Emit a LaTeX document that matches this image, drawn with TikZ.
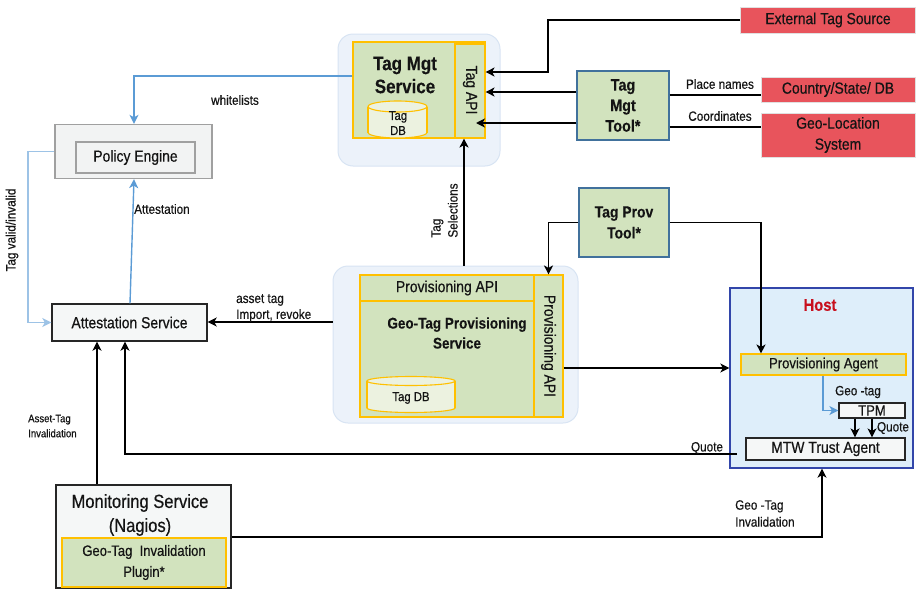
\documentclass[tikz,border=0pt]{standalone}
\usepackage{fontspec}
\setmainfont{Liberation Sans}[FakeStretch=0.87, UprightFeatures={FakeBold=0.5}, BoldFeatures={FakeBold=0.3}]
\usetikzlibrary{arrows.meta,calc}
\definecolor{grn}{RGB}{210,227,190}
\definecolor{yel}{RGB}{255,192,0}
\definecolor{cylf}{RGB}{236,242,224}
\definecolor{redc}{RGB}{232,84,92}
\definecolor{bgblue}{RGB}{236,242,250}
\definecolor{bgbord}{RGB}{216,228,243}
\definecolor{hostf}{RGB}{222,238,250}
\definecolor{hostd}{RGB}{50,70,170}
\definecolor{toolb}{RGB}{65,113,156}
\definecolor{blu}{RGB}{91,155,213}
\definecolor{lblu}{RGB}{157,195,230}
\definecolor{grayf}{RGB}{242,243,243}
\definecolor{grayd}{RGB}{160,160,160}
\definecolor{whf}{RGB}{245,247,247}
\definecolor{hostred}{RGB}{200,16,30}
\definecolor{txt}{RGB}{20,20,20}
\begin{document}
\begin{tikzpicture}[x=1pt,y=-1pt,
  every node/.style={text=txt},
  box/.style={draw, rectangle, inner sep=0pt, align=center},
  grnbox/.style={box, fill=grn, draw=yel, line width=1.1pt},
  redbox/.style={box, fill=redc, draw=black!12, line width=1pt, font=\fontsize{16}{21}\selectfont},
  toolbox/.style={box, fill=grn, draw=toolb, line width=1.3pt, font=\bfseries\fontsize{16.5}{20.5}\selectfont},
  whbox/.style={box, fill=whf, draw=black!85, line width=1.2pt},
  bgbox/.style={box, fill=bgblue, draw=bgbord, line width=1pt, rounded corners=15pt},
  arr/.style={-{Stealth[length=9pt,width=9pt,inset=2.5pt]}, line width=1.4pt, draw=black},
  plain/.style={line width=1.4pt, draw=black},
  barr/.style={arr, draw=blu},
  lbarr/.style={arr, draw=lblu},
  lbl/.style={font=\fontsize{13.5}{16}\selectfont, inner sep=0pt, align=left},
  slbl/.style={font=\fontsize{11}{15}\selectfont, inner sep=0pt, align=left},
  cyl/.style={fill=cylf, draw=yel, line width=1.1pt}
]
\useasboundingbox (0,0) rectangle (916,589);

% ---------- Tag Mgt Service ----------
\node[bgbox, minimum width=162pt, minimum height=132pt] (tmbg) at (419,100) {};
\node[grnbox, minimum width=132pt, minimum height=96pt] (tmsvc) at (419,90) {};
\node[font=\bfseries\fontsize{19.5}{23}\selectfont, align=center, inner sep=0pt] (tmtitle) at (405,75) {Tag Mgt\\Service};
\node[grnbox, minimum width=30pt, minimum height=94pt] (tagapi) at (470,91) {};
\node[rotate=-90, font=\fontsize{16}{18}\selectfont, inner sep=0pt] (tagapilbl) at (470,90) {Tag API};
% cylinder
\fill[cylf] (368,106.5) rectangle (427,132.5);
\draw[cyl] (397.5,132.5) ellipse [x radius=29.5, y radius=5.5];
\fill[cylf] (368.6,106.5) rectangle (426.4,132.5);
\draw[yel, line width=1.1pt] (368,106.5) -- (368,132.5) (427,106.5) -- (427,132.5);
\draw[cyl] (397.5,106.5) ellipse [x radius=29.5, y radius=5.5];
\node[font=\fontsize{13}{15}\selectfont, align=center, inner sep=0pt] (tmdb) at (398,123) {Tag\\DB};

% ---------- Policy Engine ----------
\node[box, fill=grayf, draw=grayd, line width=1.3pt, minimum width=157pt, minimum height=54pt] (pe) at (133.5,151.5) {};
\node[box, fill=grayf, draw=grayd, line width=1.3pt, minimum width=119pt, minimum height=31pt, font=\fontsize{16}{18}\selectfont] (pein) at (135.5,157.5) {Policy Engine};

% ---------- Attestation Service ----------
\node[whbox, line width=1.4pt, minimum width=155pt, minimum height=37pt, font=\fontsize{16}{18}\selectfont] (att) at (129.5,322.5) {Attestation Service};

% ---------- Provisioning Service ----------
\node[bgbox, minimum width=245pt, minimum height=157pt] (provbg) at (455.5,344.5) {};
\node[grnbox, minimum width=174pt, minimum height=142pt] (provsvc) at (447,346) {};
\node[grnbox, minimum width=174pt, minimum height=26pt, font=\fontsize{16}{18}\selectfont] (papitop) at (447,288) {Provisioning API};
\node[grnbox, minimum width=29pt, minimum height=142pt] (papiv) at (548.5,346) {};
\node[rotate=-90, font=\fontsize{16}{18}\selectfont, inner sep=0pt] (papivlbl) at (548.5,346) {Provisioning API};
\node[font=\bfseries\fontsize{15.5}{20}\selectfont, align=center, inner sep=0pt] (provtitle) at (457,333) {Geo-Tag Provisioning\\Service};
\fill[cylf] (367,381) rectangle (455,408);
\draw[cyl] (411,408) ellipse [x radius=44, y radius=4.5];
\fill[cylf] (367.6,381) rectangle (454.4,408);
\draw[yel, line width=1.1pt] (367,381) -- (367,408) (455,381) -- (455,408);
\draw[cyl] (411,381) ellipse [x radius=44, y radius=4.5];
\node[font=\fontsize{13}{15}\selectfont, inner sep=0pt] (provdb) at (411,398) {Tag DB};

% ---------- Tools ----------
\node[toolbox, minimum width=92pt, minimum height=69pt] (tmtool) at (623,105.5) {Tag\\Mgt\\Tool*};
\node[toolbox, minimum width=90pt, minimum height=69pt, font=\bfseries\fontsize{16}{21}\selectfont] (tptool) at (624,222.5) {Tag Prov\\Tool*};

% ---------- External sources ----------
\node[redbox, minimum width=175pt, minimum height=26pt] (ext) at (828,20) {External Tag Source};
\node[redbox, minimum width=154pt, minimum height=25pt] (country) at (838,89.5) {Country/State/ DB};
\node[redbox, minimum width=154pt, minimum height=44pt] (geoloc) at (838,135) {Geo-Location\\System};

% ---------- Host ----------
\node[box, fill=hostf, draw=hostd, line width=1.3pt, minimum width=183pt, minimum height=180pt] (host) at (821.5,378) {};
\node[font=\bfseries\fontsize{17}{20}\selectfont, text=hostred, inner sep=0pt] (hostlbl) at (820,305) {Host};
\node[grnbox, minimum width=165pt, minimum height=21pt, font=\fontsize{15}{17}\selectfont] (pagent) at (823.5,364.5) {Provisioning Agent};
\node[whbox, minimum width=66pt, minimum height=15pt, font=\fontsize{15}{15}\selectfont] (tpm) at (872,410.5) {TPM};
\node[whbox, minimum width=159pt, minimum height=22pt, font=\fontsize{16}{18}\selectfont] (mtw) at (825.5,449) {MTW Trust Agent};

% ---------- Monitoring ----------
\node[whbox, minimum width=175pt, minimum height=103pt] (mon) at (143.5,536.5) {};
\node[font=\fontsize{19}{24}\selectfont, align=center, inner sep=0pt] (montitle) at (140,515) {Monitoring Service\\(Nagios)};
\node[grnbox, minimum width=164pt, minimum height=49pt, font=\fontsize{15}{21}\selectfont] (plugin) at (144,562.5) {Geo-Tag~~Invalidation\\Plugin*};

% ---------- Connectors ----------
\draw[arr] (ext.west) -- (548,20) -- (548,72) -- (tagapi.east |- 0,72);
\draw[arr] (tmtool.west |- 0,92) -- (tagapi.east |- 0,92);
\draw[arr] (tmtool.west |- 0,123) -- ($(tagapi.center |- 0,123)+(6,0)$);
\draw[plain] (tmtool.east |- 0,95) -- (country.west |- 0,95);
\draw[plain] (tmtool.east |- 0,127) -- (geoloc.west |- 0,127);
\draw[arr] (464,0 |- provbg.north) -- (464,0 |- tagapi.south);
\draw[arr] (tptool.west) -| (papiv.north);
\draw[arr] (tptool.east) -| (761,0 |- pagent.north);
\draw[arr] (papiv.east |- 0,368) -- (host.west |- 0,368);
\draw[arr] (provbg.west |- 0,322) -- (att.east |- 0,322);
\coordinate (qstart) at (737,454);
\draw[arr] (qstart) -| (125,0 |- att.south);
\draw[arr] (97,0 |- mon.north) -- (97,0 |- att.south);
\draw[arr] (mon.east |- 0,537) -| (822,0 |- host.south);
\draw[barr] (tmsvc.west |- 0,76) -| (134,0 |- pe.north);
\draw[barr] (130,0 |- att.north) -- (134,0 |- pe.south);
\draw[lbarr] (pe.west) -- (28,0 |- pe.west) -- (28,0 |- att.west) -- (att.west);
\draw[barr] (823,0 |- pagent.south) |- (tpm.west);
\draw[arr] (855,0 |- tpm.south) -- (855,0 |- mtw.north);
\draw[arr] (872,0 |- tpm.south) -- (872,0 |- mtw.north);

% ---------- Labels ----------
\node[lbl] (lwhite) at (235,100) {whitelists};
\node[lbl, anchor=west] (latt) at (134,209) {Attestation};
\node[lbl, rotate=90] (lvalid) at (12,230) {Tag valid/invalid};
\node[lbl, anchor=west] (lasset) at (236,308) {asset tag\\Import, revoke};
\node[lbl, rotate=90, font=\fontsize{13.5}{17}\selectfont] (lsel) at (444.5,210.5) {Tag\\Selections};
\node[lbl] (lplace) at (720,84) {Place names};
\node[lbl] (lcoord) at (720,116) {Coordinates};
\node[lbl] (lgeotag) at (858,392) {Geo -tag};
\node[lbl] (lquote1) at (893,428) {Quote};
\node[lbl] (lquote2) at (707,448) {Quote};
\node[lbl, anchor=west, font=\fontsize{13.5}{17}\selectfont] (lginv) at (735,513.5) {Geo -Tag\\Invalidation};
\node[slbl, anchor=west] (lainv) at (28,426) {Asset-Tag\\Invalidation};
\end{tikzpicture}
\end{document}
